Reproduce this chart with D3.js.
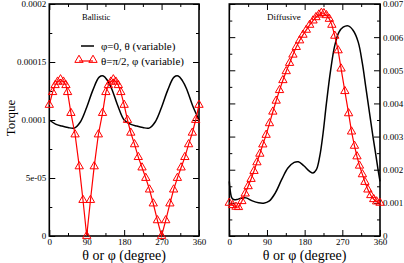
<!DOCTYPE html>
<html>
<head>
<meta charset="utf-8">
<script src="https://cdn.jsdelivr.net/npm/d3@7"></script>
<style>
  body { margin: 0; background: #fff; }
  svg, svg text { font-family: "Liberation Serif", "Times New Roman", "DejaVu Serif", serif; }
</style>
</head>
<body>
<svg id="chart" width="404" height="263"></svg>
<script>
// ---- data ----
// Ballistic, phi=0, theta variable (black)
const balThetaDeg = [0, 15, 30, 45, 60, 75, 90, 105, 120, 130, 140, 150, 165, 180, 195, 210, 225, 240, 255, 270, 285, 300, 310, 320, 330, 345, 360];
const balThetaVal = [0.0001, 0.0000965, 0.0000948, 0.0000935, 0.000093, 0.0000985, 0.000111, 0.000126, 0.000137, 0.000138, 0.000134, 0.000127, 0.000112,
                     0.0001, 0.0000965, 0.0000948, 0.0000935, 0.000093, 0.0000985, 0.000111, 0.000126, 0.000137, 0.000138, 0.000134, 0.000127, 0.000112, 0.0001];
// Ballistic, theta=pi/2, phi variable (red triangles)
const balPhiDeg = [0, 8, 14, 20, 27, 34, 40, 44, 52, 62, 72, 81, 90, 99, 108, 118, 128, 136, 142, 148, 154, 160, 166, 172, 180, 188, 196, 205, 214, 223, 232, 241, 250, 260, 270, 280, 290, 299, 308, 317, 326, 335, 344, 352, 360];
const balPhiVal = [0.000113, 0.000124, 0.00013, 0.000133, 0.000135, 0.000133, 0.00013, 0.000124, 0.000106, 0.0000875, 0.00006, 0.000031, 0,
                   0.000031, 0.00006, 0.0000875, 0.000106, 0.000124, 0.00013, 0.000133, 0.000135, 0.000133, 0.00013, 0.000124, 0.000113,
                   0.0001, 0.000089, 0.000079, 0.000068, 0.000059, 0.00005, 0.00004, 0.000028, 0.0000135, 0,
                   0.0000135, 0.000028, 0.00004, 0.00005, 0.000059, 0.000068, 0.000079, 0.000089, 0.0001, 0.000113];
// Diffusive, phi=0, theta variable (black)
const difThetaDeg = [0, 3, 6, 10, 18, 28, 40, 55, 70, 82, 95, 110, 125, 140, 155, 165, 178, 192, 200, 208, 216, 224, 232, 242, 252, 262, 272, 284, 296, 308, 318, 326, 334, 342, 350, 356, 360];
const difThetaVal = [0.00165, 0.0013, 0.00115, 0.0011, 0.0011, 0.00114, 0.00115, 0.00106, 0.001, 0.00099, 0.00105, 0.0013, 0.0017, 0.00205, 0.00222, 0.00224,
                     0.00212, 0.00195, 0.0019, 0.002, 0.0024, 0.0031, 0.004, 0.005, 0.00575, 0.00615, 0.0063, 0.00634, 0.0062, 0.00585, 0.0052,
                     0.0045, 0.0038, 0.0031, 0.00245, 0.00195, 0.00165];
// Diffusive, theta=pi/2, phi variable (red triangles)
const difPhiDeg = [0, 8, 16, 22, 30, 38, 45, 52, 59, 66, 73, 80, 88, 96, 104, 112, 120, 128, 136, 144, 152, 160, 168, 176, 184, 192, 200, 207, 214, 220,
                   226, 232, 239, 245, 252, 260, 267, 276, 285, 292, 299, 305, 311, 318, 324, 331, 338, 345, 352, 360];
const difPhiVal = [0.001, 0.00093, 0.00088, 0.00087, 0.00105, 0.00128, 0.0015, 0.00172, 0.00196, 0.00222, 0.00248, 0.00276, 0.00305, 0.0034, 0.00375,
                   0.00408, 0.0044, 0.0047, 0.00497, 0.00522, 0.00547, 0.0057, 0.0059, 0.00607, 0.00622, 0.00637, 0.0065, 0.0066, 0.00668, 0.00673,
                   0.00672, 0.00666, 0.00655, 0.00637, 0.00604, 0.0056, 0.00505, 0.00437, 0.0037, 0.00315, 0.00272, 0.0024, 0.00212, 0.00186,
                   0.00163, 0.0014, 0.00123, 0.00111, 0.00104, 0.001];

const xTicks = [0, 90, 180, 270, 360];
const xMinor = [45, 135, 225, 315];
const leftYTicks = [0, 0.00005, 0.0001, 0.00015, 0.0002];
const leftYLabels = ["0", "5e-05", "0.0001", "0.00015", "0.0002"];
const leftYMinor = [0.000025, 0.000075, 0.000125, 0.000175];
const rightYTicks = [0, 0.001, 0.002, 0.003, 0.004, 0.005, 0.006, 0.007];
const rightYLabels = ["0", "0.001", "0.002", "0.003", "0.004", "0.005", "0.006", "0.007"];
const rightYMinor = [0.0005, 0.0015, 0.0025, 0.0035, 0.0045, 0.0055, 0.0065];
const legendLabels = ["\u03c6=0, \u03b8 (variable)", "\u03b8=\u03c0/2, \u03c6 (variable)"];
const xTitle = "\u03b8  or \u03c6 (degree)";

const serif = "'Liberation Serif', 'Times New Roman', 'DejaVu Serif', serif";
const svg = d3.select("#chart").attr("font-family", serif);
const red = "#ff0000";
const tri = d3.symbol().type(d3.symbolTriangle).size(30);

function zip(a, b) { return a.map((d, i) => ({x: d, y: b[i]})); }

function panel(cfg) {
  const x = d3.scaleLinear().domain([0, 360]).range([cfg.x0, cfg.x1]);
  const y = d3.scaleLinear().domain([0, cfg.ymax]).range([236, 4]);
  const g = svg.append("g");

  // frame
  g.append("rect")
    .attr("x", cfg.x0).attr("y", 4)
    .attr("width", cfg.x1 - cfg.x0).attr("height", 232)
    .attr("fill", "none").attr("stroke", "#000").attr("stroke-width", 1.6);

  // bottom axis with labels
  const bot = g.append("g").attr("transform", "translate(0,236)")
    .call(d3.axisBottom(x).tickValues(xTicks).tickSizeInner(-6).tickSizeOuter(0).tickPadding(3));
  bot.append("g").call(d3.axisBottom(x).tickValues(xMinor).tickSize(-3).tickFormat(""));
  // top axis
  const top = g.append("g").attr("transform", "translate(0,4)")
    .call(d3.axisTop(x).tickValues(xTicks).tickSize(-6).tickFormat(""));
  top.append("g").call(d3.axisTop(x).tickValues(xMinor).tickSize(-3).tickFormat(""));

  // y axes
  const labelled = cfg.labelRight ? d3.axisRight(y) : d3.axisLeft(y);
  const plain = cfg.labelRight ? d3.axisLeft(y) : d3.axisRight(y);
  const ly = g.append("g").attr("transform", "translate(" + (cfg.labelRight ? cfg.x1 : cfg.x0) + ",0)")
    .call(labelled.tickValues(cfg.yTicks).tickFormat((d, i) => cfg.yLabels[i]).tickSizeInner(-6).tickSizeOuter(0).tickPadding(3));
  ly.append("g").call((cfg.labelRight ? d3.axisRight(y) : d3.axisLeft(y)).tickValues(cfg.yMinor).tickSize(-3).tickFormat(""));
  const py = g.append("g").attr("transform", "translate(" + (cfg.labelRight ? cfg.x0 : cfg.x1) + ",0)")
    .call(plain.tickValues(cfg.yTicks).tickSize(-6).tickFormat(""));
  py.append("g").call((cfg.labelRight ? d3.axisLeft(y) : d3.axisRight(y)).tickValues(cfg.yMinor).tickSize(-3).tickFormat(""));

  g.selectAll(".domain").remove();
  g.selectAll("g").attr("font-family", serif);
  g.selectAll(".tick line").attr("stroke", "#000").attr("stroke-width", 1);
  g.selectAll(".tick text").attr("font-family", serif).attr("font-size", 9).attr("fill", "#000");

  // black curve
  g.append("path")
    .datum(zip(cfg.blackDeg, cfg.blackVal))
    .attr("d", d3.line().x(d => x(d.x)).y(d => y(d.y)).curve(d3.curveCatmullRom))
    .attr("fill", "none").attr("stroke", "#000").attr("stroke-width", 1.5);

  // red line + triangles
  const rd = zip(cfg.redDeg, cfg.redVal);
  g.append("path")
    .datum(rd)
    .attr("d", d3.line().x(d => x(d.x)).y(d => y(d.y)))
    .attr("fill", "none").attr("stroke", red).attr("stroke-width", 1.2);
  g.selectAll(".tri").data(rd).enter().append("path")
    .attr("transform", d => "translate(" + x(d.x) + "," + y(d.y) + ")")
    .attr("d", tri)
    .attr("fill", "none").attr("stroke", red).attr("stroke-width", 1);

  // panel title
  g.append("text").attr("x", cfg.titleX).attr("y", 20)
    .attr("font-size", cfg.titleSize).text(cfg.title);

  // x title
  g.append("text").attr("x", (cfg.x0 + cfg.x1) / 2).attr("y", 260)
    .attr("text-anchor", "middle").attr("font-size", 14).text(xTitle);
}

panel({x0: 49.3, x1: 199, ymax: 0.0002, yTicks: leftYTicks, yLabels: leftYLabels, yMinor: leftYMinor, labelRight: false,
       blackDeg: balThetaDeg, blackVal: balThetaVal, redDeg: balPhiDeg, redVal: balPhiVal,
       title: "Ballistic", titleX: 82, titleSize: 8.5});
panel({x0: 229.3, x1: 380, ymax: 0.007, yTicks: rightYTicks, yLabels: rightYLabels, yMinor: rightYMinor, labelRight: true,
       blackDeg: difThetaDeg, blackVal: difThetaVal, redDeg: difPhiDeg, redVal: difPhiVal,
       title: "Diffusive", titleX: 267, titleSize: 9});

// legend
const leg = svg.append("g");
leg.append("line").attr("x1", 81).attr("x2", 94).attr("y1", 46).attr("y2", 46)
  .attr("stroke", "#000").attr("stroke-width", 1.5);
leg.append("line").attr("x1", 79).attr("x2", 93).attr("y1", 61).attr("y2", 61)
  .attr("stroke", red).attr("stroke-width", 1.2);
leg.selectAll(".ltri").data([79, 93]).enter().append("path")
  .attr("transform", d => "translate(" + d + ",60)")
  .attr("d", tri).attr("fill", "none").attr("stroke", red);
leg.selectAll(".ltxt").data(legendLabels).enter().append("text")
  .attr("x", 101).attr("y", (d, i) => 50 + i * 15)
  .attr("font-size", 11).text(d => d);

// y title
svg.append("text")
  .attr("transform", "translate(15,118) rotate(-90)")
  .attr("text-anchor", "middle").attr("font-size", 13).text("Torque");
</script>
</body>
</html>
